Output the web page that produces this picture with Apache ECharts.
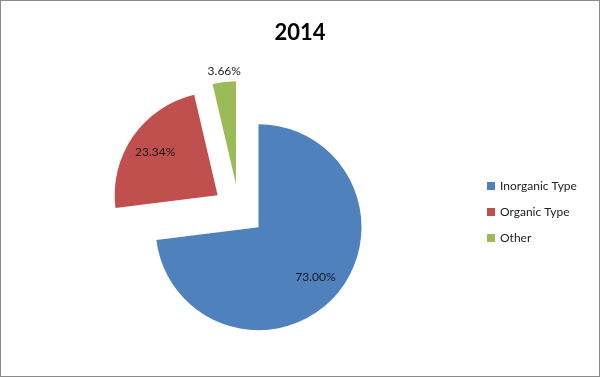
<!DOCTYPE html>
<html>
<head>
<meta charset="utf-8">
<script src="https://cdn.jsdelivr.net/npm/echarts@6/dist/echarts.min.js"></script>
<style>
  html, body { margin: 0; padding: 0; background: #fff; }
  #chart { width: 600px; height: 377px; box-sizing: border-box; border: 1px solid #8a8a8a; }
</style>
</head>
<body>
<div id="chart"></div>
<script>
const categories = ['Inorganic Type', 'Organic Type', 'Other']
const shares = [73.00, 23.34, 3.66]
const colors = ['#4F81BD', '#C0504D', '#9BBB59']
const FONT = 'Lato'
const CENTER = [238, 209]
const EXPLODE = 26

const chart = echarts.init(document.getElementById('chart'))

// slices, only the small one gets its label from here (outside)
const pieData = categories.map((name, i) => ({
  name,
  value: shares[i],
  selected: true,
  itemStyle: { color: colors[i] },
  label: { show: i === 2 }
}))

// invisible larger pie, used only to place the inside labels further out
const labelData = categories.map((name, i) => ({
  name,
  value: shares[i],
  selected: true,
  label: { show: i !== 2 }
}))

const fmt = (p) => p.value.toFixed(2) + '%'

chart.setOption({
  animation: false,
  title: {
    text: '2014',
    left: 'center',
    top: 16,
    textStyle: { fontFamily: FONT, fontSize: 22, fontWeight: 'bold', color: '#000' }
  },
  legend: {
    orient: 'vertical',
    left: 481,
    top: 174,
    itemWidth: 8,
    itemHeight: 8,
    itemGap: 14,
    icon: 'rect',
    data: categories,
    textStyle: { fontFamily: FONT, fontSize: 12, color: '#222' }
  },
  series: [
    {
      type: 'pie',
      center: CENTER,
      radius: 103,
      startAngle: 90,
      clockwise: true,
      selectedMode: 'multiple',
      selectedOffset: EXPLODE,
      avoidLabelOverlap: false,
      emphasis: { disabled: true },
      data: pieData,
      label: {
        position: 'outside',
        formatter: fmt,
        fontFamily: FONT,
        fontSize: 12,
        color: '#222',
        distanceToLabelLine: 0
      },
      labelLine: { show: false, length: 11, length2: -18 }
    },
    {
      type: 'pie',
      center: CENTER,
      radius: 146,
      startAngle: 90,
      clockwise: true,
      selectedMode: 'multiple',
      selectedOffset: EXPLODE,
      silent: true,
      avoidLabelOverlap: false,
      emphasis: { disabled: true },
      itemStyle: { color: 'transparent' },
      data: labelData,
      label: {
        position: 'inside',
        formatter: fmt,
        fontFamily: FONT,
        fontSize: 12,
        color: '#1a1a1a'
      },
      labelLine: { show: false }
    }
  ]
})
</script>
</body>
</html>
